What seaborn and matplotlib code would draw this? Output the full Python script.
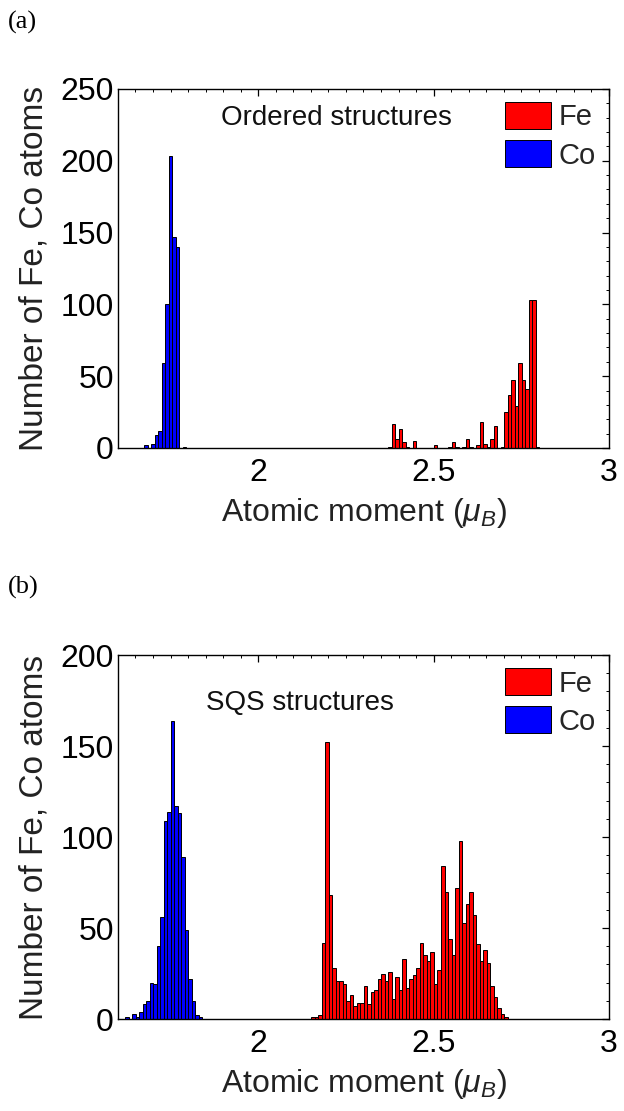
import numpy as np
import pandas as pd
import matplotlib
matplotlib.use("Agg")
import matplotlib.pyplot as plt
import seaborn as sns
from matplotlib.ticker import MultipleLocator
from matplotlib.patches import Patch

# ---------------- data ----------------
# Panel (a): ordered structures -- contiguous bins of width 0.01
co_a_start = 1.680
co_a_counts = [2, 0, 3, 9, 12, 59, 100, 203, 147, 140, 0, 1]
fe_a_start = 2.376
fe_a_counts = [1, 17, 6, 13, 4, 1, 0, 5, 0, 0, 0, 0, 0, 2, 0, 0, 0, 1, 4, 1,
               0, 1, 6, 1, 0, 2, 18, 3, 1, 6, 15, 0, 1, 25, 37, 47, 29, 59,
               47, 41, 103, 103, 1]

# Panel (b): SQS structures
co_b_start = 1.626
co_b_counts = [1, 0, 3, 1, 4, 8, 10, 20, 19, 40, 56, 109, 114, 164, 117, 113,
               89, 49, 22, 10, 2, 1]
fe_b_start = 2.156
fe_b_counts = [1, 1, 2, 42, 152, 68, 28, 21, 21, 19, 10, 13, 7, 9, 9, 18, 8,
               15, 16, 22, 25, 21, 26, 11, 23, 16, 33, 17, 22, 24, 28, 42, 35,
               32, 37, 19, 27, 84, 70, 44, 35, 72, 98, 53, 63, 70, 57, 41, 32,
               38, 31, 18, 12, 6, 3, 1]
bin_width = 0.01

species = ["Fe", "Co"]
species_colors = ["#FF0000", "#0000FF"]
panel_titles = ["Ordered structures", "SQS structures"]
panel_tags = ["(a)", "(b)"]
x_ticks = [2, 2.5, 3]
x_tick_labels = ["2", "2.5", "3"]
y_max = [250, 200]

# ---------------- style ----------------
sns.set_theme(style="white")
plt.rcParams["font.family"] = ["Liberation Sans", "DejaVu Sans"]
plt.rcParams["mathtext.fontset"] = "custom"
plt.rcParams["mathtext.rm"] = "Liberation Sans"
plt.rcParams["mathtext.it"] = "Liberation Sans:italic"
plt.rcParams["axes.edgecolor"] = "black"
plt.rcParams["axes.linewidth"] = 1.0

fig = plt.figure(figsize=(6.24, 11.11), dpi=100)
ax_a = fig.add_axes([0.189, 0.5968, 0.787, 0.3232])
ax_b = fig.add_axes([0.189, 0.0828, 0.787, 0.3276])


def draw_hist(ax, start, counts, color):
    counts = np.asarray(counts, dtype=float)
    n = len(counts)
    df = pd.DataFrame({"moment": start + bin_width * np.arange(n),
                       "count": counts})
    lo = start - bin_width / 2
    hi = start + bin_width * (n - 0.5)
    sns.histplot(data=df, x="moment", weights="count", binwidth=bin_width,
                 binrange=(lo, hi), color=color, edgecolor="black",
                 linewidth=0.7, alpha=1.0, ax=ax)


panels = [
    (ax_a, fe_a_start, fe_a_counts, co_a_start, co_a_counts),
    (ax_b, fe_b_start, fe_b_counts, co_b_start, co_b_counts),
]
title_pos = [(0.21, 0.92), (0.179, 0.868)]

for i, (ax, fs, fc, cs, cc) in enumerate(panels):
    draw_hist(ax, cs, cc, species_colors[1])
    draw_hist(ax, fs, fc, species_colors[0])
    ax.set_xlim(1.6, 3.0)
    ax.set_ylim(0, y_max[i])
    ax.set_xticks(x_ticks)
    ax.set_xticklabels(x_tick_labels)
    ax.xaxis.set_minor_locator(MultipleLocator(0.05))
    ax.yaxis.set_major_locator(MultipleLocator(50))
    ax.yaxis.set_minor_locator(MultipleLocator(10))
    ax.tick_params(which="both", direction="in", top=True, right=True,
                   colors="black", labelsize=23)
    ax.tick_params(which="major", length=5, width=0.9)
    ax.tick_params(which="minor", length=2.5, width=0.7)
    ax.tick_params(axis="x", pad=7)
    ax.tick_params(axis="y", pad=3)
    for s in ax.spines.values():
        s.set_visible(True)
        s.set_color("black")
    ax.set_xlabel(r"Atomic moment ($\mathit{\mu}_{B}$)", fontsize=23,
                  color="#222222", labelpad=6)
    ax.set_ylabel("Number of Fe, Co atoms", fontsize=24, color="#222222",
                  labelpad=8)
    ax.text(title_pos[i][0], title_pos[i][1], panel_titles[i],
            transform=ax.transAxes, fontsize=20, color="#111111",
            ha="left", va="center")
    handles = [Patch(facecolor=c, edgecolor="black", linewidth=0.7, label=s)
               for s, c in zip(species, species_colors)]
    ax.legend(handles=handles, loc="upper right", frameon=False,
              fontsize=21, handlelength=1.6, handleheight=1.05,
              handletextpad=0.25, labelspacing=0.3, borderaxespad=0.25,
              borderpad=0.2)

fig.text(0.013, 0.980, panel_tags[0], family="Liberation Serif",
         fontsize=19, ha="left", va="center", color="black")
fig.text(0.013, 0.4716, panel_tags[1], family="Liberation Serif",
         fontsize=19, ha="left", va="center", color="black")

fig.savefig("out.png", dpi=100)
